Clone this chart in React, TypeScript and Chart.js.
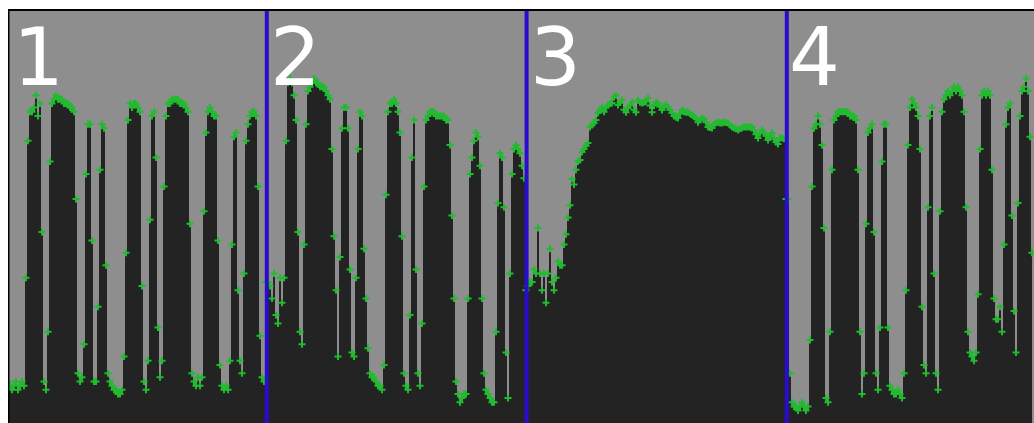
import React, { useEffect, useRef } from 'react';
import { Chart, registerables } from 'chart.js';

Chart.register(...registerables);

// Signal level (0-100) per sample, one sample every index step, for each of the 4 segments
const PANEL_1 = [
  10, 9, 8, 9, 10, 8, 9, 10, 9,
  35, 68, 75, 75, 76, 79, 74, 77, 46, 10, 8, 22, 63,
  77, 78, 79, 78, 78, 78, 77, 77, 77, 76, 76, 75,
  54, 12, 10, 11,
  19, 60, 72, 72,
  44, 10, 10,
  28, 61, 72, 71,
  38, 12,
  10, 9, 8, 8, 7, 7, 8,
  16, 41, 73,
  77, 76, 77, 77, 76, 75,
  33, 10, 8,
  15, 49, 74, 75,
  64, 23, 11,
  15, 57, 74, 77,
  77, 78, 78, 78, 78, 77, 77, 77, 76, 75,
  48, 12, 10, 9, 11, 9, 11,
  51, 70, 75, 76, 75, 74, 74,
  44, 14, 9, 8, 9, 8,
  15, 43, 69, 70,
  32, 15, 12,
  36, 68, 72, 74, 75, 75, 74,
  57, 21, 11, 10,
];

const PANEL_2 = [
  34, 34, 33, 30, 36, 26, 24, 35, 29, 35,
  68, 82, 83, 82,
  79, 73, 46, 22, 19,
  43, 72, 80, 81, 82, 83, 82, 82, 81, 81, 81, 80, 79, 78,
  66, 45, 32, 16,
  40, 71, 76, 76,
  71, 37, 17, 16,
  35, 66, 75, 74,
  42, 30, 18, 12, 11, 11, 10, 9, 9, 8,
  14, 55, 75, 77,
  77, 78, 77, 75,
  70, 45, 12, 9, 8,
  26, 64, 73,
  37, 12, 9,
  24, 57, 73, 74, 75, 75, 75, 74, 74, 74, 74, 74, 73, 73,
  67, 50, 30, 10, 7, 5, 6, 7, 7,
  30, 60, 64, 68, 70, 69,
  62, 30, 12, 8, 7, 6, 5, 5,
  22, 53, 65, 64,
  52, 17, 6,
  36, 60, 66, 67, 66, 65, 62, 59,
];

const PANEL_3 = [
  32, 33, 34, 34, 37, 36, 47, 36, 32, 36, 29, 36, 42, 34, 32, 35, 39, 38, 38, 43,
  45.5, 49.5, 52.5, 58.8, 57.5, 61, 63, 63.4, 65.3, 66,
  66.8, 67.5, 71.3, 71.8, 72.3, 73, 74.7, 75.5, 76.1, 75,
  76, 76.6, 77, 77.1, 78.5, 79, 76.6, 77.2, 77.8, 75.5,
  74.9, 75.9, 76.5, 77.3, 75.5, 74.9, 77.8, 77.3, 77.1, 77.3,
  77.5, 78.3, 76.5, 74.9, 76.5, 77.3, 77.1, 76.2, 75.4, 76.3,
  76.6, 76.1, 75.4, 74.7, 74, 73.7, 73.5, 74.5, 75.4, 75,
  74.9, 74.9, 74.5, 74.2, 73.8, 73.5, 72.5, 73, 73.5, 73.2,
  72.5, 71.3, 71.2, 71.1, 71.9, 72.3, 72.5, 72.3, 72.3, 72.5,
  72.4, 72.3, 71.8, 71.3, 71.1, 70.9, 70.6, 70.9, 71.1, 71.3,
  71.3, 71.3, 71.3, 71.3, 70.5, 69.6, 68.7, 69.8, 70.6, 69.8,
  69.2, 68.2, 69, 69.9, 68.5, 67.7, 67.2, 68.7, 68.7, 68.5,
];

const PANEL_4 = [
  54, 54, 12,
  5, 4, 4, 3, 4, 5, 4, 3, 4,
  20, 57, 71, 72, 74, 72,
  67, 47, 6, 5,
  22, 61, 73, 74, 75, 75, 75, 75, 75, 75, 74, 74, 74, 73,
  61, 22, 7,
  12, 48, 70, 71, 72,
  46, 12, 8,
  23, 63, 72, 72,
  23, 9, 8, 7, 7, 8, 7, 6,
  12, 32, 67, 76,
  78, 77, 76, 74,
  66, 28, 14, 12,
  52, 74, 76,
  36, 12, 8,
  51, 75, 78, 79, 80, 79, 80, 81, 80, 81, 80, 79,
  75, 52, 22, 17, 16, 15, 17,
  31, 66, 79, 80, 79, 80, 79,
  61, 30, 25, 25,
  28, 22, 43, 72, 76, 77,
  50, 27, 17,
  53, 74, 80, 81, 83, 80,
  69, 41,
];

// sample index where each segment begins
const PANEL_START = [0, 129, 259, 389];
// segment separators (sample index)
const SEPARATORS = [129.4, 259.3, 389.4];
const PANEL_LABELS = ['1', '2', '3', '4'];
const X_MIN = 0;
const X_MAX = 513;
const Y_MIN = 0;
const Y_MAX = 100;

export default function App() {
  const ref = useRef<HTMLCanvasElement>(null);

  useEffect(() => {
    const panels = [PANEL_1, PANEL_2, PANEL_3, PANEL_4];
    const points = panels.flatMap((vals, p) =>
      vals.map((y, i) => ({ x: PANEL_START[p] + i, y }))
    );
    const labelOffsets = [5, 4, 4, 3];

    const decor = {
      id: 'decor',
      beforeDraw(chart: any) {
        const { ctx, chartArea } = chart;
        ctx.save();
        ctx.fillStyle = '#8e8e8e';
        ctx.fillRect(chartArea.left, chartArea.top + 1, chartArea.right - chartArea.left, chartArea.bottom - chartArea.top - 1);
        ctx.restore();
      },
      afterDatasetsDraw(chart: any) {
        const { ctx, chartArea, scales } = chart;
        const xs = scales.x;
        ctx.save();
        // separators
        ctx.strokeStyle = '#2a0bd0';
        ctx.lineWidth = 4;
        SEPARATORS.forEach((s) => {
          const px = xs.getPixelForValue(s);
          ctx.beginPath();
          ctx.moveTo(px, chartArea.top + 1);
          ctx.lineTo(px, chartArea.bottom);
          ctx.stroke();
        });
        // panel labels
        ctx.fillStyle = '#ffffff';
        ctx.font = '80px "DejaVu Sans"';
        ctx.textBaseline = 'alphabetic';
        ctx.textAlign = 'left';
        PANEL_LABELS.forEach((lab, p) => {
          const px = xs.getPixelForValue(PANEL_START[p]) + labelOffsets[p];
          ctx.fillText(lab, px, chartArea.top + 77);
        });
        // frame (top, left)
        ctx.fillStyle = '#000000';
        ctx.fillRect(chartArea.left, chartArea.top + 1, chartArea.right - chartArea.left, 2);
        ctx.fillRect(chartArea.left, chartArea.top + 1, 1.5, chartArea.bottom - chartArea.top);
        ctx.restore();
      },
    };

    const chart = new Chart(ref.current as HTMLCanvasElement, {
      type: 'line',
      data: {
        datasets: [
          {
            data: points,
            fill: 'start',
            stepped: 'middle',
            backgroundColor: '#232323',
            borderColor: 'rgba(0,0,0,0)',
            borderWidth: 0,
            tension: 0,
            pointStyle: 'cross',
            pointRadius: 3.5,
            pointBorderWidth: 2,
            pointBorderColor: '#22bb30',
            pointBackgroundColor: '#22bb30',
          },
        ],
      },
      options: {
        animation: false,
        responsive: false,
        events: [],
        layout: { padding: 0, autoPadding: false },
        plugins: { legend: { display: false }, tooltip: { enabled: false } },
        scales: {
          x: { type: 'linear', min: X_MIN, max: X_MAX, display: false },
          y: { type: 'linear', min: Y_MIN, max: Y_MAX, display: false },
        },
      },
      plugins: [decor],
    } as any);
    return () => chart.destroy();
  }, []);

  return (
    <div style={{ position: 'fixed', left: 8, top: 8, width: 1026, height: 415, overflow: 'hidden' }}>
      <canvas ref={ref} width={1026} height={415} style={{ display: 'block' }} />
    </div>
  );
}
